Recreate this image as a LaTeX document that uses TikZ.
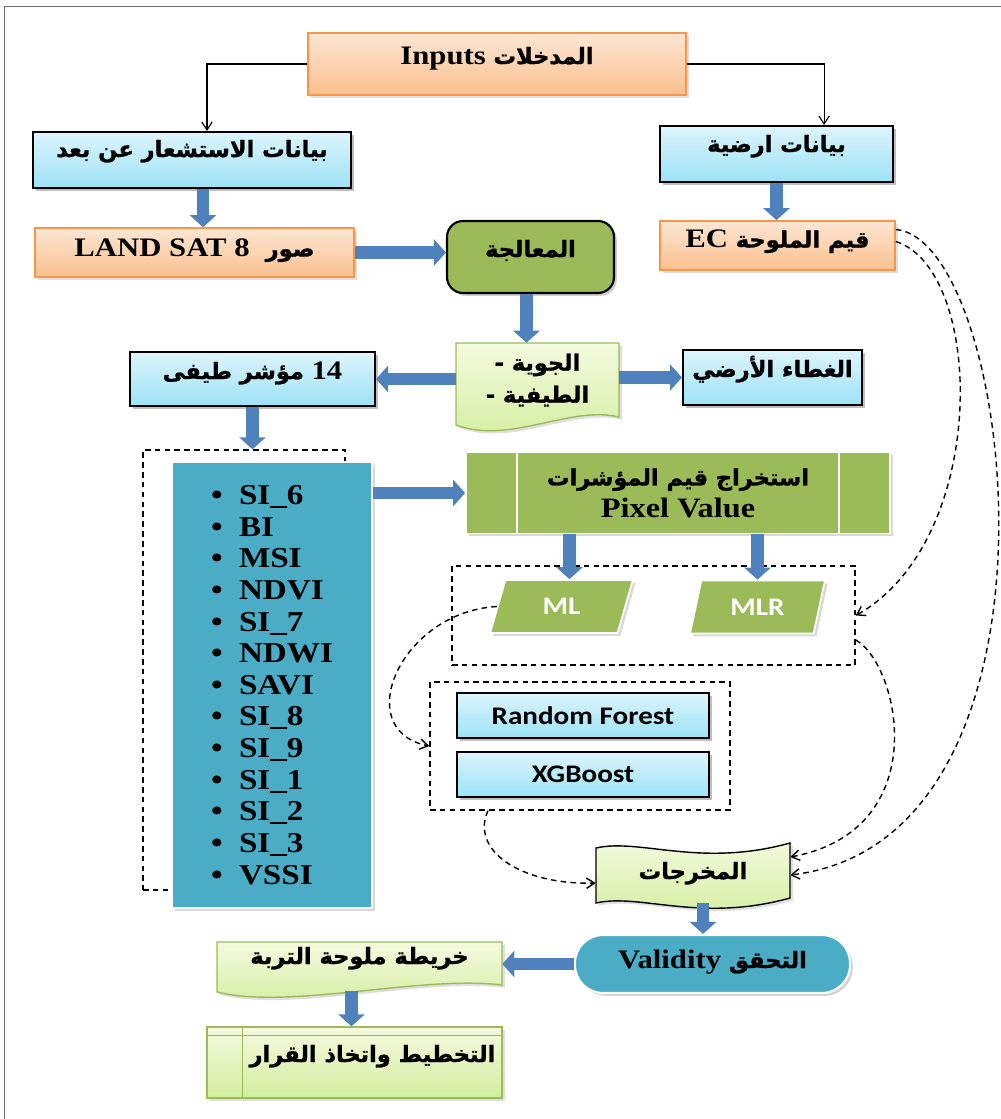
\documentclass[tikz,border=0pt]{standalone}
\usepackage{fontspec}
\setmainfont{Liberation Serif}[FakeStretch=1.15]
\newfontfamily\arabicfont[Script=Arabic,BoldFeatures={FakeBold=1.2}]{DejaVu Sans}
\newfontfamily\calfont{Carlito}[FakeStretch=1.15]
\TeXXeTstate=1
\usetikzlibrary{arrows.meta,shapes.geometric,shadows,calc}
\definecolor{orgtop}{HTML}{FDE6D3}
\definecolor{orgbot}{HTML}{FAC08F}
\definecolor{orgline}{HTML}{F79646}
\definecolor{bluetop}{HTML}{DDF4FC}
\definecolor{bluebot}{HTML}{9CE3F7}
\definecolor{leafgreen}{HTML}{9BBB59}
\definecolor{listteal}{HTML}{4BACC6}
\definecolor{greentop}{HTML}{F4FADF}
\definecolor{greenbot}{HTML}{D3EE9E}
\definecolor{arrowblue}{HTML}{4F81BD}
\definecolor{framegray}{HTML}{6E6E6E}
\newcommand{\ar}[1]{{\arabicfont\fontsize{16}{19}\selectfont\beginR #1\endR}}
\newcommand{\idxitem}[1]{\makebox[7mm][l]{\textbullet}#1}
\begin{document}
\begin{tikzpicture}[x=0.25mm,y=-0.25mm,font=\fontsize{19}{22.7}\selectfont\bfseries,
	lift/.style={text height=5mm,text depth=#1,inner ysep=0.5mm},
	myshadow/.style={drop shadow={shadow xshift=0.7mm,shadow yshift=-0.7mm,opacity=#1}},
	myshadow/.default=0.35,
	orangebox/.style={draw=orgline,line width=1.2pt,top color=orgtop,bottom color=orgbot,myshadow=0.25},
	bluebox/.style={draw=black,line width=1.5pt,top color=bluetop,bottom color=bluebot,myshadow=0.5},
	greenbox/.style={fill=leafgreen,draw=white,line width=1.2pt,myshadow=0.3},
	greendoc/.style={draw=leafgreen,line width=1pt,top color=greentop,bottom color=greenbot,myshadow=0.25},
	tapeshape/.style={draw=black,line width=1pt,top color=greentop,bottom color=greenbot,myshadow=0.25},
	mlshape/.style={trapezium,trapezium left angle=76,trapezium right angle=104,trapezium stretches=true,
		minimum height=13.25mm,fill=leafgreen,draw=white,line width=1.2pt,myshadow=0.3,text=white,
		font=\calfont\bfseries\fontsize{18}{20}\selectfont},
	dashbox/.style={draw,line width=1pt,dash pattern=on 4pt off 3pt},
	fatarrow/.style={draw=arrowblue,line width=3.2mm,-{Triangle[length=3mm,width=6.5mm]}},
	thinarrow/.style={draw,line width=0.8pt,-{Straight Barb[length=2mm,width=2.6mm]}},
	dasharrow/.style={draw,line width=1pt,dash pattern=on 4pt off 3pt,-{Straight Barb[length=2mm,width=2.6mm]}}]
	\useasboundingbox (0,0) rectangle (1001,1119);
	\draw[framegray,line width=0.7pt] (4,1119) -- (4,6) -- (1001,6);
	% inputs and data sources
	\node[orangebox,minimum width=94.5mm,minimum height=15.5mm,lift=5mm] (inputs) at (497,64) {Inputs \ar{المدخلات}};
	\node[bluebox,minimum width=79.5mm,minimum height=14mm,lift=6.5mm] (remote) at (192,160) {\ar{بيانات الاستشعار عن بعد}};
	\node[bluebox,minimum width=58.25mm,minimum height=14mm,lift=6mm] (ground) at (776.5,154) {\ar{بيانات ارضية}};
	\node[orangebox,minimum width=79.75mm,minimum height=12.25mm,lift=3mm] (landsat) at (194.5,252.5) {LAND SAT 8\hspace{4mm}\ar{صور}};
	\node[orangebox,minimum width=58.75mm,minimum height=12.25mm,lift=4mm] (EC) at (777.5,245.5) {EC \ar{قيم الملوحة}};
	\node[fill=leafgreen,draw=black,line width=1.5pt,rounded corners=4mm,myshadow=0.4,
		minimum width=41.75mm,minimum height=18mm,lift=5mm] (proc) at (530.5,257) {\ar{المعالجة}};
	% corrections
	\path[greendoc] (456,343) -- (619,343) -- (619,417) .. controls (570,405) and (510,445) .. (456,425) -- cycle;
	\node[align=center,minimum width=40.75mm,minimum height=18.5mm] (atm) at (537.5,380)
		{\ar{الجوية -}\\\ar{الطيفية -}};
	\node[bluebox,minimum width=61.25mm,minimum height=13.5mm,lift=5mm] (idx14) at (252.5,379) {\ar{مؤشر طيفى} 14};
	\node[bluebox,minimum width=44.75mm,minimum height=13.75mm,lift=5.25mm] (cover) at (772.5,377.5) {\ar{الغطاء الأرضي}};
	% spectral indices
	\node[dashbox,minimum width=50.5mm,minimum height=110mm] (idxgroup) at (244,670) {};
	\node[fill=listteal,draw=white,line width=1.5pt,myshadow=0.3,minimum width=50mm,minimum height=111.5mm,
		align=left,font=\fontsize{20.5}{22.5}\selectfont\bfseries] (list) at (272,685)
		{\idxitem{SI\_6}\\\idxitem{BI}\\\idxitem{MSI}\\\idxitem{NDVI}\\\idxitem{SI\_7}\\\idxitem{NDWI}\\\idxitem{SAVI}\\
		\idxitem{SI\_8}\\\idxitem{SI\_9}\\\idxitem{SI\_1}\\\idxitem{SI\_2}\\\idxitem{SI\_3}\\\idxitem{VSSI}};
	\node[greenbox,minimum width=106mm,minimum height=20.25mm,align=center,font=\fontsize{20}{22.7}\selectfont\bfseries]
		(pixel) at (678,493) {\ar{استخراج قيم المؤشرات}\\Pixel Value};
	\draw[white,line width=1.5pt] ($(pixel.north west)+(52,0)$) -- ($(pixel.south west)+(52,0)$);
	\draw[white,line width=1.5pt] ($(pixel.north east)+(-52,0)$) -- ($(pixel.south east)+(-52,0)$);
	% models
	\node[dashbox,minimum width=100.75mm,minimum height=24.75mm] (mlgroup) at (653.5,615.5) {};
	\node[mlshape,minimum width=35.75mm] (ML) at (561.5,606.5) {ML};
	\node[mlshape,minimum width=33.75mm] (MLR) at (757.5,607) {MLR};
	\node[dashbox,minimum width=75mm,minimum height=32mm] (modgroup) at (580,746) {};
	\node[bluebox,minimum width=63mm,minimum height=11.25mm,font=\calfont\bfseries\fontsize{18}{20}\selectfont] (RF) at (583,715.5) {Random Forest};
	\node[bluebox,minimum width=63mm,minimum height=11.25mm,font=\calfont\bfseries\fontsize{18}{20}\selectfont] (XGB) at (583,774.5) {XGBoost};
	% outputs
	\path[tapeshape] (596,848) .. controls (640,838) and (700,868) .. (790,843) -- (790,898)
		.. controls (700,923) and (640,893) .. (596,903) -- cycle;
	\node[minimum width=48.5mm,minimum height=13.75mm,lift=3mm] (outputs) at (693,875) {\ar{المخرجات}};
	\node[fill=listteal,draw=white,line width=1.5pt,rounded corners=7mm,myshadow=0.35,
		minimum width=68.75mm,minimum height=14.5mm,lift=3mm] (validity) at (712.5,964) {Validity \ar{التحقق}};
	\path[greendoc] (217,942) -- (502,942) -- (502,985) .. controls (420,975) and (290,1010) .. (217,992) -- cycle;
	\node[minimum width=71.25mm,minimum height=12.5mm,lift=6mm] (soil) at (359.5,966) {\ar{خريطة ملوحة التربة}};
	\node[greendoc,minimum width=73.75mm,minimum height=17.75mm,lift=5.25mm] (plan) at (354.5,1062.5) {\hspace*{9mm}\ar{التخطيط واتخاذ القرار}};
	\draw[leafgreen,line width=1pt] ($(plan.north west)+(0,9)$) -- ($(plan.north east)+(0,9)$);
	\draw[leafgreen,line width=1pt] ($(plan.north west)+(36,0)$) -- ($(plan.south west)+(36,0)$);
	% connectors
	\draw[thinarrow] (inputs.west) -| ([xshift=3.75mm]remote.north);
	\draw[thinarrow] (inputs.east) -| ([xshift=11.9mm]ground.north);
	\draw[fatarrow] ([xshift=2.75mm]remote.south) -- ([xshift=2.75mm]remote.south |- landsat.north);
	\draw[fatarrow] (ground.south) -- (ground.south |- EC.north);
	\draw[fatarrow] (landsat.east) -- (landsat.east -| proc.west);
	\draw[fatarrow] ([xshift=-1mm]proc.south) -- ([xshift=-1mm]proc.south |- atm.north);
	\draw[fatarrow] (idx14.east -| atm.west) -- (idx14.east);
	\draw[fatarrow] (cover.west -| atm.east) -- (cover.west);
	\draw[fatarrow] (idx14.south) -- (idx14.south |- idxgroup.north);
	\draw[fatarrow] (pixel.west -| list.east) -- (pixel.west);
	\draw[fatarrow] ([xshift=2mm]ML.north |- pixel.south) -- ([xshift=2mm]ML.north);
	\draw[fatarrow] (MLR.north |- pixel.south) -- (MLR.north);
	\draw[fatarrow] ([xshift=2.5mm]outputs.south) -- ([xshift=2.5mm]outputs.south |- validity.north);
	\draw[fatarrow] (validity.west) -- (validity.west -| soil.east);
	\draw[fatarrow] ([xshift=-2mm]soil.south) -- ([xshift=-2mm]soil.south |- plan.north);
	\draw[dasharrow] ([yshift=1mm]EC.east) .. controls (985,270) and (990,540) .. (mlgroup.east);
	\draw[dasharrow] ([yshift=4mm]EC.east) .. controls (1015,240) and (1085,840) .. (outputs.east);
	\draw[dasharrow] ([yshift=-6.1mm]mlgroup.east) .. controls (900,665) and (935,830) .. ([yshift=4.5mm]outputs.east);
	\draw[dasharrow] (ML.west) .. controls (400,612) and (350,730) .. (modgroup.west);
	\draw[dasharrow] ([xshift=-23mm]modgroup.south) .. controls (470,850) and (520,885) .. ([yshift=-2mm]outputs.west);
\end{tikzpicture}
\end{document}
